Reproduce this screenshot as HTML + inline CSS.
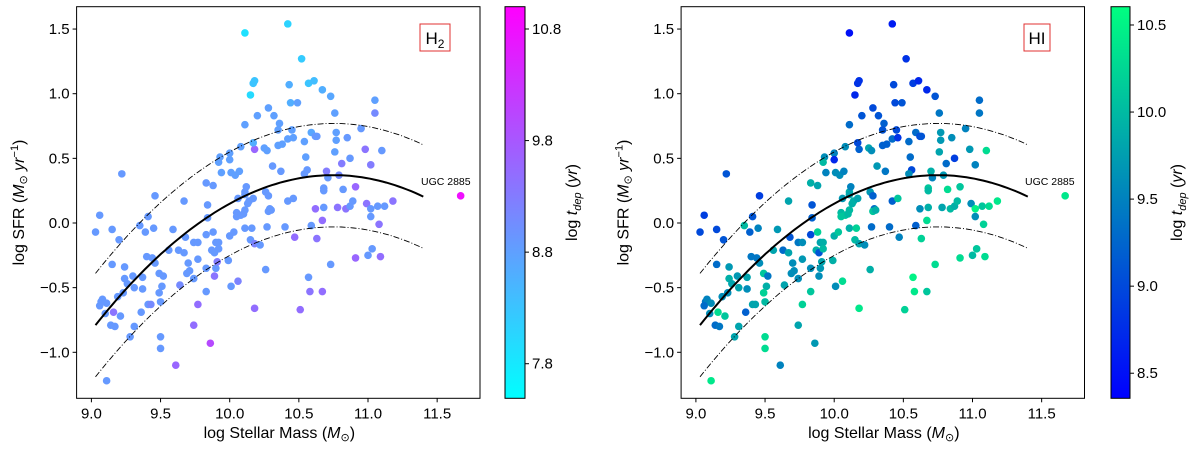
<!DOCTYPE html>
<html><head><meta charset="utf-8">
<style>
html,body{margin:0;padding:0;background:#fff;}
svg{display:block;font-family:"Liberation Sans","DejaVu Sans",sans-serif;}
</style></head>
<body>
<svg id="chart" width="1200" height="449" viewBox="0 0 1200 449" xmlns="http://www.w3.org/2000/svg">
<defs>
<linearGradient id="coolGrad" x1="0" y1="1" x2="0" y2="0"><stop offset="0" stop-color="#00ffff"/><stop offset="1" stop-color="#ff00ff"/></linearGradient>
<linearGradient id="winterGrad" x1="0" y1="1" x2="0" y2="0"><stop offset="0" stop-color="#0000ff"/><stop offset="1" stop-color="#00ff80"/></linearGradient>
</defs>
</svg>
<script>
const massValues=[9.03,9.06,9.11,9.22,9.15,9.15,9.20,9.24,9.24,9.26,9.30,9.31,9.35,9.39,9.41,9.45,9.46,9.40,9.44,9.46,9.37,9.37,9.07,9.08,9.06,9.11,9.10,9.14,9.17,9.21,9.16,9.19,9.23,9.31,9.28,9.36,9.41,9.43,9.49,9.52,9.51,9.49,9.50,9.50,9.50,9.59,9.56,9.63,9.64,9.61,9.68,9.67,9.67,9.70,9.71,9.69,9.74,9.77,9.77,9.74,9.77,9.74,9.83,9.88,9.84,9.84,9.83,9.83,9.83,9.88,9.87,9.89,9.90,9.92,9.92,9.90,9.91,9.89,9.86,9.93,9.92,9.94,10.00,10.00,10.01,10.04,10.07,10.08,10.11,10.11,10.00,10.03,9.99,10.01,10.06,10.05,10.05,10.06,10.08,10.10,10.11,10.11,10.11,10.11,10.12,10.13,10.14,10.17,10.16,10.15,10.18,10.22,10.18,10.17,10.15,10.18,10.17,10.20,10.18,10.25,10.27,10.28,10.32,10.31,10.26,10.28,10.29,10.28,10.30,10.27,10.26,10.36,10.35,10.35,10.38,10.37,10.42,10.43,10.44,10.49,10.45,10.42,10.46,10.42,10.46,10.40,10.47,10.51,10.52,10.57,10.61,10.54,10.55,10.56,10.54,10.59,10.62,10.63,10.59,10.62,10.63,10.57,10.58,10.67,10.67,10.67,10.68,10.68,10.68,10.70,10.71,10.73,10.73,10.76,10.77,10.77,10.76,10.79,10.81,10.82,10.78,10.84,10.85,10.87,10.87,10.89,10.91,10.91,10.95,10.98,10.99,11.02,11.02,11.02,11.03,11.00,11.05,11.05,11.07,11.08,11.09,11.10,11.12,11.18,11.67];
const sfrValues=[-0.07,0.06,-1.22,0.38,-0.05,-0.32,-0.13,-0.34,-0.43,-0.47,-0.41,-0.50,-0.02,-0.07,0.05,-0.04,0.21,-0.26,-0.27,-0.31,-0.42,-0.51,-0.61,-0.59,-0.64,-0.62,-0.70,-0.79,-0.80,-0.72,-0.69,-0.57,-0.54,-0.80,-0.88,-0.69,-0.63,-0.63,-0.39,-0.41,-0.49,-0.54,-0.61,-0.88,-0.97,-0.05,-0.21,-0.21,-0.48,-1.10,-0.11,-0.23,0.17,-0.31,-0.37,-0.39,-0.15,-0.15,-0.28,-0.43,-0.63,-0.79,0.31,0.29,0.14,0.04,-0.09,-0.35,-0.53,-0.07,-0.21,-0.23,-0.15,-0.15,-0.20,-0.35,-0.30,-0.41,-0.93,0.51,0.47,0.39,0.54,0.49,0.39,0.37,0.40,0.59,0.76,1.47,-0.10,-0.07,-0.29,-0.49,-0.45,0.08,0.05,0.19,0.06,0.07,0.10,-0.04,0.24,0.22,0.28,0.15,0.17,0.19,-0.04,-0.13,-0.16,-0.17,0.57,0.62,0.99,1.10,1.08,0.83,-0.66,0.58,0.56,0.89,0.83,0.44,0.24,0.21,0.11,0.09,0.10,-0.03,-0.36,0.77,0.72,0.60,0.61,0.40,1.54,1.07,0.93,0.93,0.72,0.65,0.66,0.17,0.19,-0.03,-0.11,-0.67,1.27,1.08,1.10,0.63,0.51,0.41,0.38,0.70,0.67,0.67,-0.02,0.11,-0.12,-0.42,-0.53,1.03,0.02,-0.53,0.27,0.25,0.12,0.40,0.35,-0.32,0.98,0.85,0.70,0.64,0.55,0.37,0.46,0.26,0.12,0.11,0.66,0.50,0.13,0.17,0.28,-0.27,0.73,0.57,0.15,0.45,0.11,0.05,-0.20,-0.25,0.95,0.85,0.13,-0.01,-0.26,0.56,0.13,0.17,0.21];
const tdepH2=[8.9,8.9,8.9,8.9,8.9,8.9,8.9,8.9,8.9,8.9,8.9,8.9,8.9,8.9,8.9,8.9,8.9,8.9,8.9,8.9,8.9,8.9,8.9,8.9,8.9,8.9,8.9,8.9,8.9,8.9,9.4,8.9,8.9,8.9,8.9,8.9,8.9,9.1,8.9,8.9,8.9,8.9,8.9,8.9,8.9,8.9,8.9,8.9,9.1,9.6,8.9,8.9,8.9,8.9,8.9,8.9,8.9,8.9,8.9,8.9,9.5,9.5,8.9,8.9,8.9,8.9,8.9,8.9,8.9,8.9,8.9,8.9,8.9,8.9,8.9,8.9,9.3,9.4,10.0,8.8,8.8,8.8,8.8,8.8,8.8,8.8,8.8,8.8,8.8,7.9,8.9,8.9,8.9,8.9,9.2,8.9,8.9,8.9,8.9,8.9,8.9,8.9,8.9,8.9,8.9,8.9,8.9,8.9,8.9,8.9,9.2,8.9,9.6,8.6,8.0,8.3,8.3,8.8,9.5,8.8,8.8,8.8,8.8,8.9,8.9,8.9,8.9,8.9,8.9,8.9,8.9,8.8,8.8,8.8,8.8,8.9,8.1,8.6,8.6,8.8,8.8,8.8,8.8,8.9,8.9,8.9,9.5,9.5,8.2,8.3,8.4,8.8,8.8,8.9,8.9,8.7,8.9,8.9,8.9,9.5,9.4,8.9,9.4,8.6,9.5,9.5,8.9,8.9,8.9,9.3,8.9,8.9,8.7,8.8,8.8,8.8,8.8,9.1,9.3,8.9,9.4,9.4,8.9,8.9,8.9,8.9,9.6,9.6,8.9,9.4,9.4,9.3,8.9,8.9,8.9,8.9,8.8,9.1,8.9,9.4,9.5,8.9,8.9,9.4,10.8];
const tdepHI=[9.0,8.9,10.4,9.1,9.0,9.3,9.1,9.7,9.9,9.8,9.7,9.8,10.0,9.2,9.1,9.5,8.9,9.4,9.4,9.6,9.8,9.6,9.4,9.5,9.3,9.6,9.6,9.3,9.4,10.1,10.3,9.6,9.6,9.8,9.8,9.2,9.8,9.8,10.1,9.4,9.9,10.2,10.0,10.3,10.3,9.7,9.8,9.3,9.8,9.5,9.1,9.8,9.8,9.6,9.6,9.6,9.4,9.6,9.7,9.6,10.2,9.8,9.9,9.8,9.1,9.2,9.0,9.6,10.1,10.2,9.9,9.1,9.8,9.9,10.0,9.7,9.8,9.6,9.7,9.6,10.0,9.5,9.5,8.7,9.6,9.6,9.5,9.6,9.3,8.5,9.9,10.1,9.9,9.6,10.3,10.0,10.1,9.7,10.1,10.0,10.0,9.9,9.9,9.8,9.5,9.9,9.9,9.8,10.2,10.0,9.8,9.6,9.2,9.0,8.7,8.8,8.8,9.1,10.4,9.8,9.6,9.0,9.1,9.7,9.7,9.2,9.3,10.1,9.9,9.3,9.9,9.2,9.1,9.2,9.2,9.4,8.6,9.0,9.0,9.1,9.0,9.3,8.8,9.2,10.1,9.3,9.5,10.2,8.8,8.9,8.7,9.3,9.3,9.0,9.6,9.3,9.0,9.1,9.2,9.6,10.2,10.5,10.4,8.7,10.3,10.1,10.1,10.0,9.9,9.9,9.5,10.3,9.1,9.4,9.7,9.7,9.8,9.7,9.3,10.3,9.8,10.0,9.6,8.9,9.9,10.0,10.1,10.3,9.5,9.7,9.6,9.5,10.5,9.6,10.1,10.0,9.3,9.4,10.1,10.2,10.3,10.3,10.3,10.4,10.4];
const xTicks=[9.0,9.5,10.0,10.5,11.0,11.5];
const yTicks=[-1.0,-0.5,0.0,0.5,1.0,1.5];
const cbTicksH2=[7.8,8.8,9.8,10.8];
const cbTicksHI=[8.5,9.0,9.5,10.0,10.5];
const fitPeakMass=[10.75];
const fitPeakSfr=[0.37];
const fitCurvature=[0.392];
const fitScatter=[0.4];
const fitRange=[9.03,11.4];

const NS="http://www.w3.org/2000/svg";
const svg=document.getElementById('chart');
function mk(tag,attrs,parent){const e=document.createElementNS(NS,tag);for(const k in attrs)e.setAttribute(k,attrs[k]);(parent||svg).appendChild(e);return e;}
function fmt(v){return v<0?'\u2212'+Math.abs(v).toFixed(1):v.toFixed(1);}
function coolColor(t){t=Math.max(0,Math.min(1,t));return `rgb(${Math.round(255*t)},${Math.round(255*(1-t))},255)`;}
function winterColor(t){t=Math.max(0,Math.min(1,t));return `rgb(0,${Math.round(255*t)},${Math.round(255*(1-0.5*t))})`;}

function panel(cfg){
  const off=cfg.off;
  const X=v=>91.4+off+(v-9)*138.3;
  const Y=v=>223-v*129.3;
  const g=mk('g',{});
  
  
  const left=76.6+off,right=480+off,top=6.7,bot=398.3;
  xTicks.forEach(t=>{
    const l=mk('line',{x1:X(t),x2:X(t),y1:bot,y2:bot+4,stroke:'#000','stroke-width':1},g);
    
    const tx=mk('text',{x:X(t),y:bot+20,'text-anchor':'middle','font-size':15},g);
    
    tx.textContent=t.toFixed(1);
  });
  yTicks.forEach(t=>{
    const l=mk('line',{x1:left-4,x2:left,y1:Y(t),y2:Y(t),stroke:'#000','stroke-width':1},g);
    
    const tx=mk('text',{x:left-7,y:Y(t)+5,'text-anchor':'end','font-size':15},g);
    
    tx.textContent=fmt(t);
  });
  for(let i=0;i<massValues.length;i++){
    const c=mk('circle',{cx:X(massValues[i]),cy:Y(sfrValues[i]),r:3.8,fill:cfg.color(cfg.t[i])},g);
    
    
  }
  const f=(x,o)=>fitPeakSfr[0]+o-fitCurvature[0]*(x-fitPeakMass[0])**2;
  [[0,'solid',2,'none'],[fitScatter[0],'upper',0.9,'6,2,1,2'],[-fitScatter[0],'lower',0.9,'6,2,1,2']].forEach(([o,n,w,d])=>{
    let p='';for(let k=0;k<=80;k++){const x=fitRange[0]+(fitRange[1]-fitRange[0])*k/80;p+=(k?'L':'M')+X(x).toFixed(1)+','+Y(f(x,o)).toFixed(1);}
    const pa=mk('path',{d:p,fill:'none',stroke:'#000','stroke-width':w,'stroke-dasharray':d},g);
    
    
  });
  const fr=mk('rect',{x:left,y:top,width:right-left,height:bot-top,fill:'none',stroke:'#000','stroke-width':1},g);
  
  const ul=mk('text',{x:cfg.ugcX,y:185,'font-size':10.5},g);
  
  ul.textContent='UGC 2885';
  const tb=mk('rect',{x:cfg.tagX,y:24,width:cfg.tagW,height:27,fill:'#fff',stroke:'#e03030','stroke-width':1},g);
  
  const tt=mk('text',{x:cfg.tagX+cfg.tagW/2,y:44,'text-anchor':'middle','font-size':17},g);
  
  if(cfg.tag==='H2'){tt.innerHTML='H<tspan font-size="12" dy="4">2</tspan>';}else{tt.textContent='HI';}
  const xt=mk('text',{x:(left+right)/2+1,y:438,'text-anchor':'middle','font-size':16},g);
  
  xt.innerHTML='log Stellar Mass (<tspan font-style="italic">M</tspan><tspan font-size="11" dy="3">\u2299</tspan><tspan dy="-3">)</tspan>';
  const yt=mk('text',{x:0,y:0,'text-anchor':'middle','font-size':16,transform:`translate(${off+24},${(top+bot)/2}) rotate(-90)`},g);
  
  yt.innerHTML='log SFR (<tspan font-style="italic">M</tspan><tspan font-size="11" dy="3">\u2299</tspan><tspan dy="-3" font-style="italic"> yr</tspan><tspan font-size="11" dy="-6">\u22121</tspan><tspan dy="6">)</tspan>';
  const cb=cfg.cb;
  const CY=v=>top+(cb.max-v)/(cb.max-cb.min)*(bot-top);
  const cr=mk('rect',{x:cb.x,y:top,width:cb.w,height:bot-top,fill:cb.grad,stroke:'#000','stroke-width':1},g);
  
  cb.ticks.forEach(t=>{
    const l=mk('line',{x1:cb.x+cb.w,x2:cb.x+cb.w+4,y1:CY(t),y2:CY(t),stroke:'#000'},g);
    
    const tx=mk('text',{x:cb.x+cb.w+7,y:CY(t)+5,'font-size':15},g);
    
    tx.textContent=t.toFixed(1);
  });
  const ct=mk('text',{x:0,y:0,'text-anchor':'middle','font-size':16,transform:`translate(${cb.x+cb.w+52},${(top+bot)/2}) rotate(-90)`},g);
  
  ct.innerHTML='log <tspan font-style="italic">t</tspan><tspan font-size="11" dy="4" font-style="italic">dep</tspan><tspan dy="-4"> (</tspan><tspan font-style="italic">yr</tspan>)';
}
panel({name:'h2-panel',off:0,t:tdepH2,color:v=>coolColor((v-7.49)/(11.0-7.49)),ugcX:421,tagX:420,tagW:30,tag:'H2',
  cb:{x:505,w:20,min:7.49,max:11.0,ticks:cbTicksH2,grad:'url(#coolGrad)'}});
panel({name:'hi-panel',off:604.5,t:tdepHI,color:v=>winterColor((v-8.356)/(10.605-8.356)),ugcX:1025,tagX:1024,tagW:26,tag:'HI',
  cb:{x:1111,w:19,min:8.356,max:10.605,ticks:cbTicksHI,grad:'url(#winterGrad)'}});
</script>
</body></html>
